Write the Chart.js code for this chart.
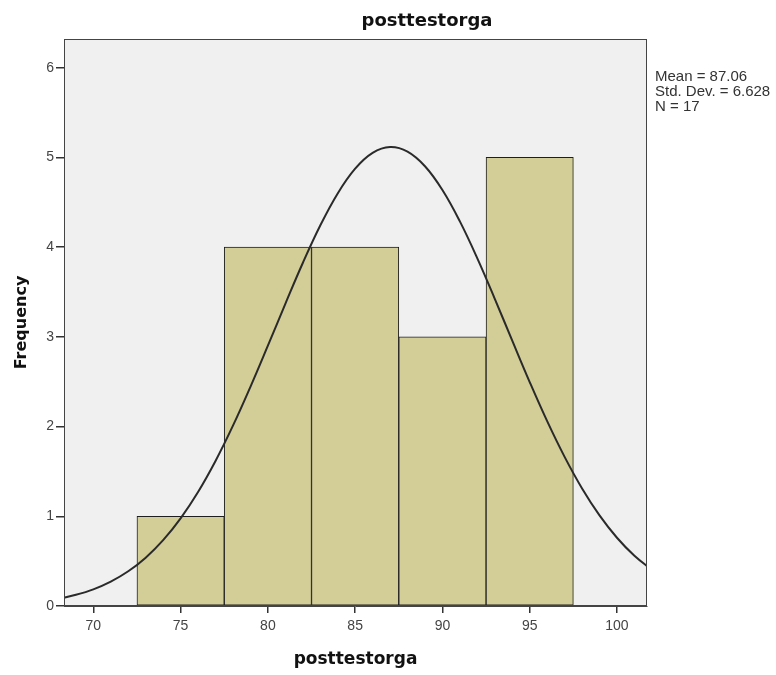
<!DOCTYPE html>
<html>
<head>
<meta charset="utf-8">
<script src="https://cdn.jsdelivr.net/npm/chart.js@4/dist/chart.umd.min.js"></script>
<style>
  body { margin: 0; background: #fff; }
</style>
</head>
<body>
<canvas id="histo" width="776" height="675"></canvas>
<script>
// histogram bins (centres) and counts
var binCenters = [75, 80, 85, 90, 95];
var frequencies = [1, 4, 4, 3, 5];

// normal curve
var curveX = [68, 69, 70, 71, 72, 73, 74, 75, 76, 77, 78, 79, 80, 81, 82, 83, 84, 85,
              86, 87, 88, 89, 90, 91, 92, 93, 94, 95, 96, 97, 98, 99, 100, 101, 102];
var curveY = [0.08, 0.125, 0.186, 0.272, 0.387, 0.539, 0.734, 0.977, 1.271, 1.617, 2.010,
              2.443, 2.901, 3.368, 3.823, 4.241, 4.599, 4.875, 5.051, 5.116, 5.065, 4.902,
              4.637, 4.287, 3.875, 3.424, 2.957, 2.496, 2.060, 1.662, 1.310, 1.010, 0.761,
              0.560, 0.403];

var statsLines = ["Mean = 87.06", "Std. Dev. = 6.628", "N = 17"];
var chartTitle = "posttestorga";

var barPoints = [];
for (var i = 0; i < binCenters.length; i++) {
    barPoints.push({ x: binCenters[i], y: frequencies[i] });
}
var curvePoints = [];
for (var j = 0; j < curveX.length; j++) {
    curvePoints.push({ x: curveX[j], y: curveY[j] });
}

// plot background, frame, title and stats box
var spssLook = {
    id: "spssLook",
    beforeDraw: function(chart) {
        var a = chart.chartArea, ctx = chart.ctx;
        ctx.save();
        ctx.fillStyle = "#f0f0f0";
        ctx.fillRect(a.left, a.top, a.right - a.left, a.bottom - a.top);
        ctx.restore();
    },
    afterDraw: function(chart) {
        var a = chart.chartArea, ctx = chart.ctx;
        ctx.save();
        ctx.strokeStyle = "#444";
        ctx.lineWidth = 1;
        ctx.strokeRect(a.left + 0.5, a.top + 0.5, a.right - a.left - 1, a.bottom - a.top - 1);

        ctx.fillStyle = "#111";
        ctx.font = "bold 18px 'DejaVu Sans'";
        ctx.textAlign = "center";
        ctx.textBaseline = "middle";
        ctx.fillText(chartTitle, 427, 21);

        ctx.fillStyle = "#333";
        ctx.font = "15px 'Liberation Sans'";
        ctx.textAlign = "left";
        for (var k = 0; k < statsLines.length; k++) {
            ctx.fillText(statsLines[k], 655, 77 + k * 15);
        }
        ctx.restore();
    }
};

new Chart(document.getElementById("histo"), {
    type: "bar",
    data: {
        datasets: [{
            type: "line",
            data: curvePoints,
            borderColor: "#2a2a2a",
            borderWidth: 2,
            pointRadius: 0,
            tension: 0.4,
            fill: false,
            order: 0
        }, {
            type: "bar",
            data: barPoints,
            backgroundColor: "#d3ce98",
            borderColor: "#1e1e1e",
            borderWidth: 1,
            borderSkipped: false,
            barPercentage: 1,
            categoryPercentage: 1,
            order: 1
        }]
    },
    options: {
        responsive: false,
        animation: false,
        devicePixelRatio: 1,
        layout: { padding: { left: 0, right: 129, top: 39, bottom: 0 } },
        plugins: {
            legend: { display: false },
            title: { display: false },
            tooltip: { enabled: false }
        },
        scales: {
            x: {
                type: "linear",
                min: 68.32,
                max: 101.72,
                offset: false,
                grid: { offset: false, drawOnChartArea: false, drawTicks: true, tickLength: 7, lineWidth: 1.5, color: "#333" },
                border: { display: true, color: "#444" },
                ticks: { stepSize: 5, includeBounds: false, padding: 5, color: "#444",
                         font: { family: "'Liberation Sans'", size: 14 } },
                title: { display: true, text: "posttestorga", color: "#111",
                         font: { family: "'DejaVu Sans'", size: 17, weight: "bold" },
                         padding: { top: 0, bottom: 5 } },
                afterFit: function(scale) { scale.height = 69; }
            },
            y: {
                min: 0,
                max: 6.32,
                grid: { drawOnChartArea: false, drawTicks: true, tickLength: 8, lineWidth: 1.5, color: "#333" },
                border: { display: true, color: "#444" },
                ticks: { stepSize: 1, includeBounds: false, padding: 2, color: "#444",
                         font: { family: "'Liberation Sans'", size: 14 } },
                title: { display: true, text: "Frequency", color: "#111",
                         font: { family: "'DejaVu Sans'", size: 16, weight: "bold" },
                         padding: { top: 12, bottom: 0 } },
                afterFit: function(scale) { scale.width = 64; }
            }
        }
    },
    plugins: [spssLook]
});
</script>
</body>
</html>
